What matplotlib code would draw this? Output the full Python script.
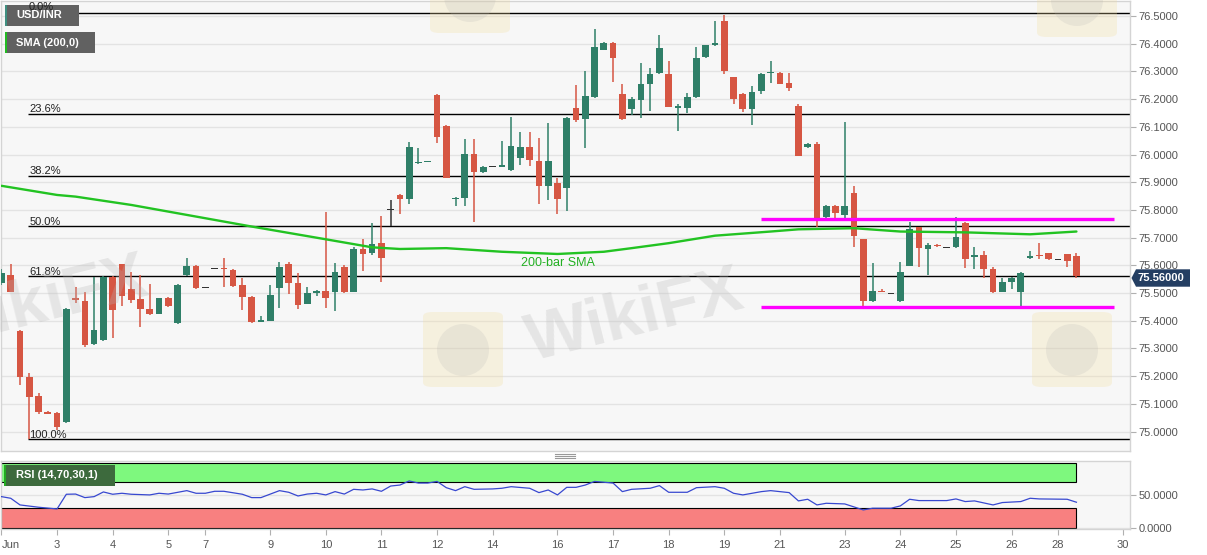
import matplotlib
matplotlib.use('Agg')
import matplotlib.pyplot as plt
from matplotlib.patches import Rectangle, Polygon, FancyBboxPatch, Ellipse
from matplotlib.lines import Line2D
import numpy as np

plt.rcParams['font.family'] = ['Liberation Sans', 'DejaVu Sans']

# ---------------- data (4H candles, USD/INR) ----------------
opens = [75.537, 75.565, 75.364, 75.198, 75.129, 75.071, 75.066, 75.036, 75.483, 75.471,
         75.317, 75.331, 75.559, 75.605, 75.514, 75.478, 75.443, 75.425, 75.483, 75.393,
         75.565, 75.598, 75.520, 75.589, 75.592, 75.583, 75.529, 75.487, 75.397, 75.400,
         75.520, 75.605, 75.538, 75.461, 75.501, 75.509, 75.505, 75.593, 75.505, 75.659,
         75.644, 75.680, 75.802, 75.854, 75.840, 75.969, 75.973, 76.215, 76.104, 75.838,
         75.844, 76.002, 75.938, 75.956, 75.956, 75.944, 75.986, 76.028, 75.978, 75.888,
         75.896, 75.880, 76.169, 76.127, 76.209, 76.377, 76.404, 76.219, 76.164, 76.197,
         76.254, 76.295, 76.291, 76.167, 76.167, 76.207, 76.351, 76.395, 76.483, 76.279,
         76.219, 76.164, 76.230, 76.293, 76.295, 76.259, 76.175, 76.026, 76.038, 75.774,
         75.814, 75.782, 75.860, 75.694, 75.473, 75.509, 75.499, 75.473, 75.599, 75.737,
         75.659, 75.674, 75.664, 75.665, 75.754, 75.629, 75.637, 75.586, 75.505, 75.541,
         75.505, 75.626, 75.637, 75.644, 75.620, 75.640, 75.634]
highs = [75.585, 75.605, 75.366, 75.213, 75.138, 75.073, 75.071, 75.445, 75.521, 75.505,
         75.559, 75.562, 75.561, 75.606, 75.577, 75.565, 75.533, 75.483, 75.485, 75.532,
         75.628, 75.600, 75.520, 75.589, 75.626, 75.585, 75.553, 75.489, 75.417, 75.529,
         75.613, 75.613, 75.571, 75.523, 75.512, 75.794, 75.608, 75.600, 75.667, 75.694,
         75.752, 75.778, 75.836, 75.858, 76.046, 76.023, 75.976, 76.217, 76.106, 75.848,
         76.055, 76.055, 75.958, 75.956, 76.050, 76.134, 76.083, 76.083, 76.059, 76.113,
         75.914, 76.137, 76.251, 76.303, 76.452, 76.405, 76.405, 76.254, 76.209, 76.329,
         76.311, 76.431, 76.339, 76.182, 76.223, 76.387, 76.397, 76.483, 76.504, 76.281,
         76.221, 76.247, 76.293, 76.339, 76.297, 76.295, 76.182, 76.041, 76.046, 75.816,
         75.816, 76.119, 75.887, 75.696, 75.608, 75.516, 75.499, 75.611, 75.757, 75.739,
         75.682, 75.676, 75.664, 75.775, 75.756, 75.667, 75.653, 75.593, 75.553, 75.559,
         75.576, 75.653, 75.680, 75.646, 75.620, 75.642, 75.644]
lows = [75.530, 75.505, 75.168, 74.973, 75.065, 75.064, 75.005, 75.030, 75.465, 75.307,
        75.313, 75.328, 75.337, 75.453, 75.463, 75.379, 75.421, 75.423, 75.451, 75.389,
        75.563, 75.515, 75.520, 75.589, 75.523, 75.521, 75.439, 75.393, 75.396, 75.398,
        75.445, 75.497, 75.442, 75.459, 75.490, 75.445, 75.435, 75.500, 75.503, 75.581,
        75.638, 75.541, 75.742, 75.784, 75.822, 75.967, 75.972, 76.041, 75.914, 75.815,
        75.814, 75.758, 75.935, 75.956, 75.954, 75.942, 75.962, 75.959, 75.822, 75.836,
        75.785, 75.797, 76.119, 76.023, 76.203, 76.376, 76.261, 76.126, 76.143, 76.131,
        76.157, 76.291, 76.171, 76.086, 76.149, 76.203, 76.349, 76.392, 76.291, 76.182,
        76.155, 76.107, 76.219, 76.259, 76.253, 76.230, 75.993, 76.024, 75.738, 75.772,
        75.770, 75.764, 75.667, 75.452, 75.469, 75.503, 75.499, 75.469, 75.597, 75.595,
        75.565, 75.666, 75.664, 75.663, 75.589, 75.586, 75.553, 75.499, 75.503, 75.514,
        75.445, 75.624, 75.622, 75.620, 75.620, 75.595, 75.553]
closes = [75.574, 75.505, 75.198, 75.126, 75.072, 75.065, 75.018, 75.443, 75.475, 75.313,
          75.367, 75.559, 75.439, 75.490, 75.475, 75.443, 75.425, 75.481, 75.453, 75.529,
          75.598, 75.517, 75.520, 75.589, 75.586, 75.526, 75.485, 75.395, 75.403, 75.492,
          75.595, 75.538, 75.457, 75.501, 75.509, 75.483, 75.577, 75.502, 75.659, 75.641,
          75.677, 75.628, 75.802, 75.840, 76.028, 75.973, 75.975, 76.064, 75.916, 75.842,
          76.002, 75.938, 75.956, 75.956, 75.962, 76.031, 76.028, 75.980, 75.888, 75.978,
          75.840, 76.131, 76.125, 76.212, 76.387, 76.404, 76.347, 76.127, 76.199, 76.254,
          76.291, 76.383, 76.173, 76.175, 76.207, 76.347, 76.395, 76.401, 76.302, 76.200,
          76.164, 76.227, 76.291, 76.297, 76.254, 76.239, 75.995, 76.038, 75.772, 75.814,
          75.790, 75.814, 75.706, 75.473, 75.509, 75.503, 75.499, 75.575, 75.730, 75.662,
          75.674, 75.668, 75.664, 75.701, 75.623, 75.637, 75.586, 75.505, 75.541, 75.553,
          75.574, 75.635, 75.632, 75.622, 75.620, 75.616, 75.562]

sma_idx = [0, 6, 8, 14, 20, 27, 35, 40, 43, 48, 54, 60, 65, 68, 72, 77, 83, 86, 92, 97, 104, 111, 116]
sma_val = [75.887, 75.854, 75.848, 75.818, 75.782, 75.740, 75.694, 75.665, 75.659, 75.662,
           75.649, 75.641, 75.649, 75.662, 75.680, 75.707, 75.722, 75.730, 75.734, 75.722,
           75.719, 75.712, 75.722]

rsi_idx = [0, 1, 2, 4, 6, 7, 8, 9, 10, 11, 12, 13, 14, 16, 17, 18, 20, 21, 22, 23, 24, 26, 27, 28,
           30, 31, 32, 33, 34, 35, 36, 37, 38, 39, 40, 41, 42, 43, 44, 45, 46, 47, 48, 49, 50, 51,
           53, 54, 55, 57, 58, 59, 60, 61, 62, 63, 64, 66, 67, 68, 70, 71, 72, 74, 75, 77, 78, 79,
           80, 82, 83, 85, 86, 87, 88, 89, 91, 93, 94, 96, 97, 98, 99, 101, 102, 103, 104, 105,
           107, 108, 110, 111, 112, 115, 116]
rsi_val = [47.9, 45.4, 35.3, 31.8, 29.2, 51.5, 51.8, 46.4, 47.9, 55.0, 51.5, 53.0, 51.5, 50.5,
           53.0, 51.8, 57.0, 53.0, 53.0, 56.0, 56.0, 51.5, 46.4, 46.4, 57.0, 54.5, 48.9, 51.8,
           53.0, 50.5, 55.5, 51.8, 59.0, 58.0, 59.6, 56.0, 64.0, 65.5, 71.7, 68.5, 68.5, 71.0,
           61.5, 57.0, 63.0, 59.0, 59.6, 60.6, 63.0, 60.6, 54.0, 58.0, 50.5, 62.0, 62.0, 65.5,
           71.0, 68.5, 55.5, 59.0, 60.6, 64.6, 54.5, 54.5, 61.5, 63.0, 60.6, 53.0, 50.5, 55.5,
           57.0, 54.0, 41.4, 43.9, 35.3, 37.8, 36.8, 27.7, 30.3, 30.3, 33.8, 43.9, 41.9, 41.9,
           41.9, 44.4, 40.4, 41.4, 35.3, 38.9, 40.4, 45.4, 44.4, 43.9, 39.4]

fib_levels = [76.510, 76.147, 75.923, 75.7415, 75.560, 74.972]
fib_labels = ['0.0%', '23.6%', '38.2%', '50.0%', '61.8%', '100.0%']
fib_start = 2.9

resistance = 75.766
support = 75.449
hline_span = (82.0, 120.0)

tick_pos = [0, 6, 12, 18, 22, 29, 35, 41, 47, 53, 60, 66, 72, 78, 84, 91, 97, 103, 109, 114, 121]
tick_lab = ['Jun', '3', '4', '5', '7', '9', '10', '11', '12', '14', '16', '17', '18', '19',
            '21', '23', '24', '25', '26', '28', '30']

last_price = 75.56

# ---------------- layout ----------------
W, H = 1207, 555
fig = plt.figure(figsize=(W / 100, H / 100), dpi=100)
fig.patch.set_facecolor('white')

def fx(px):
    return px / W

def fy(py):
    return 1 - py / H

BG = '#f7f7f7'
GRID = '#e3e3e3'
SPINE = '#d4d4d4'
GREEN = '#2f7f68'
RED = '#d65643'
DOJI = '#333333'
XMIN = -0.05
XMAX = XMIN + 1129 / 9.267

ax = fig.add_axes([fx(1), fy(450.7), fx(1130) - fx(1), fy(1) - fy(450.7)])
ax2 = fig.add_axes([fx(1), fy(528.5), fx(1130) - fx(1), fy(461) - fy(528.5)])

for a in (ax, ax2):
    a.set_facecolor(BG)
    for s in a.spines.values():
        s.set_color(SPINE)
        s.set_linewidth(1)
    a.set_xlim(XMIN, XMAX)

ax.set_ylim(74.931, 76.554)

# faint watermarks
wm_kw = dict(fontsize=48, fontweight='bold', color='#b8b8b8', alpha=0.28, rotation=14,
             ha='center', va='center', zorder=20)
fig.text(fx(635), fy(318), 'WikiFX', **wm_kw)
fig.text(fx(40), fy(305), 'WikiFX', clip_on=True, **wm_kw)
for (x0, y0) in [(423, 387), (1032, 387), (430, 33), (1037, 37)]:
    sq = FancyBboxPatch((fx(x0), fy(y0)), fx(80), 75 / H,
                        boxstyle='round,pad=0.0,rounding_size=0.008',
                        transform=fig.transFigure, fc='#f3dea0', ec='none', alpha=0.28,
                        zorder=19)
    fig.add_artist(sq)
    fig.add_artist(Ellipse((fx(x0 + 40), fy(y0 - 37)), 52 / W, 52 / H,
                           transform=fig.transFigure, fc='#b0b0b0', ec='none', alpha=0.18,
                           zorder=19))

# grid
ax.set_yticks(np.round(np.arange(75.0, 76.51, 0.1), 1))
ax.yaxis.set_major_formatter(matplotlib.ticker.FormatStrFormatter('%.4f'))
ax.grid(axis='y', color=GRID, lw=1)
ax.set_axisbelow(True)
ax.yaxis.tick_right()
ax.tick_params(axis='y', direction='out', length=4, color='#b0b0b0',
               labelcolor='#555555', labelsize=8, pad=2)
ax.tick_params(axis='x', bottom=False, labelbottom=False)

# fib lines
ax.hlines(fib_levels, fib_start, XMAX, color='black', lw=1, zorder=2)
for lv, lb in zip(fib_levels[1:], fib_labels[1:]):
    ax.text(3.0, lv + 0.005, lb, fontsize=8, color='#222222', va='baseline', ha='left', zorder=2)

# candles
o = np.array(opens); h = np.array(highs); l = np.array(lows); c = np.array(closes)
idx = np.arange(len(o))
cols = np.where(c > o, GREEN, np.where(c < o, RED, DOJI))
ax.vlines(idx, l, h, colors=cols, lw=1.1, zorder=3)
mid = (o + c) / 2
bh = np.maximum(np.abs(c - o), 0.004)
ax.bar(idx, bh, bottom=mid - bh / 2, width=0.72, color=cols, linewidth=0, zorder=4)

# SMA
ax.plot(sma_idx, sma_val, color='#22c322', lw=1.7, zorder=5, solid_capstyle='round')
ax.text(56.1, 75.609, '200-bar SMA', color='#22b022', fontsize=9, va='center', ha='left', zorder=5)

# support / resistance
ax.hlines([resistance, support], hline_span[0], hline_span[1], color='#ff00ff', lw=2.4, zorder=6)

# RSI panel
ax2.set_ylim(-0.5, 102)
ax2.add_patch(Rectangle((XMIN, 70), 116 - XMIN, 29.5, fc='#7ef87e', ec='black', lw=0.8, zorder=1))
ax2.add_patch(Rectangle((XMIN, 0), 116 - XMIN, 30, fc='#f88080', ec='black', lw=0.8, zorder=1))
ax2.set_yticks([0, 50])
ax2.set_yticklabels(['0.0000', '50.0000'])
ax2.grid(axis='y', color=GRID, lw=1)
ax2.set_axisbelow(True)
ax2.yaxis.tick_right()
ax2.tick_params(axis='y', direction='out', length=4, color='#b0b0b0',
                labelcolor='#555555', labelsize=8, pad=2)
ax2.plot(rsi_idx, rsi_val, color='#3848d0', lw=0.9, zorder=3)
ax2.set_xticks(tick_pos)
ax2.set_xticklabels(tick_lab)
ax2.tick_params(axis='x', direction='out', length=4, color='#b0b0b0',
                labelcolor='#555555', labelsize=8, pad=4)
ax2.get_xticklabels()[0].set_ha('left')

# label boxes
def label_box(x0, y0, x1, y1, text, fc, strip):
    fig.add_artist(Rectangle((fx(x0), fy(y1)), fx(x1 - x0), (y1 - y0) / H,
                             transform=fig.transFigure, fc=fc, ec='none', zorder=30))
    fig.add_artist(Rectangle((fx(x0), fy(y1)), fx(2), (y1 - y0) / H,
                             transform=fig.transFigure, fc=strip, ec='none', zorder=31))
    fig.text(fx(16), fy((y0 + y1) / 2), text, color='white', fontsize=8, fontweight='bold',
             va='center', ha='left', zorder=32)

label_box(5, 5, 79, 26, 'USD/INR', '#616161', '#3f8f80')
label_box(5, 32, 95, 53, 'SMA (200,0)', '#616161', '#22bb22')
label_box(4, 465, 115, 486, 'RSI (14,70,30,1)', '#3d6a3d', '#22aa22')

# 0.0% fib label drawn over the symbol box, as in the reference
fig.text(fx(28.5), fy(10.5), fib_labels[0], fontsize=8, color='#222222',
         va='baseline', ha='left', zorder=33)

# last price label
pts = [(1131.5, 278), (1136, 269.3), (1190, 269.3), (1190, 286.7), (1136, 286.7)]
fig.add_artist(Polygon([(fx(px), fy(py)) for px, py in pts], closed=True,
                       transform=fig.transFigure, fc='#243e62', ec='none', zorder=30))
fig.text(fx(1138), fy(278), '%.5f' % last_price, color='white', fontsize=8,
         fontweight='bold', va='center', ha='left', zorder=31)

# panel resize handle
for yy in (454, 456, 458):
    fig.add_artist(Line2D([fx(555), fx(575)], [fy(yy), fy(yy)], transform=fig.transFigure,
                          color='#999999', lw=0.8))

fig.savefig('out.png', dpi=100, facecolor='white')
